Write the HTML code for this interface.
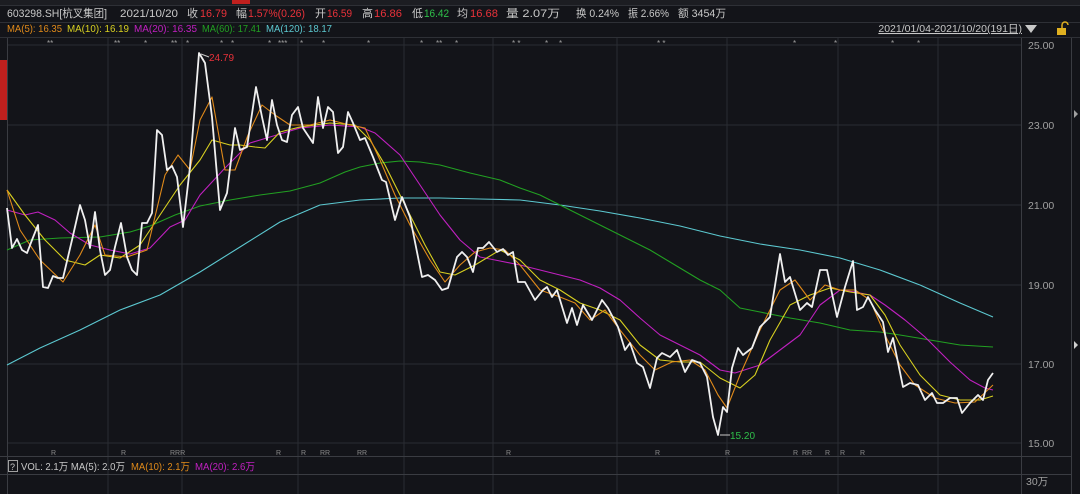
<!DOCTYPE html>
<html><head><meta charset="utf-8"><style>
html,body{margin:0;padding:0;background:#131419;}
svg{display:block;font-family:"Liberation Sans","Noto Sans CJK SC",sans-serif;}
</style></head><body>
<svg width="1080" height="494" viewBox="0 0 1080 494" xmlns="http://www.w3.org/2000/svg">
<rect width="1080" height="494" fill="#131419"/>
<rect x="0" y="0" width="1080" height="5" fill="#1c1d22"/>
<rect x="232" y="0" width="18" height="4" fill="#c0201e"/>
<line x1="0" y1="5.5" x2="1080" y2="5.5" stroke="#2e3036"/>
<line x1="0" y1="22.5" x2="1080" y2="22.5" stroke="#2e3036"/>
<line x1="0" y1="37.5" x2="1080" y2="37.5" stroke="#2e3036"/>
<g font-size="11" fill="#c8c8c8" lengthAdjust="spacingAndGlyphs">
<text x="7" y="17" textLength="100" lengthAdjust="spacingAndGlyphs">603298.SH[杭叉集团]</text>
<text x="120" y="17" textLength="58" lengthAdjust="spacingAndGlyphs">2021/10/20</text>
<text x="187" y="17">收</text><text x="200" y="17" fill="#e8323a" textLength="27" lengthAdjust="spacingAndGlyphs">16.79</text>
<text x="236" y="17">幅</text><text x="248" y="17" fill="#e8323a" textLength="57" lengthAdjust="spacingAndGlyphs">1.57%(0.26)</text>
<text x="315" y="17">开</text><text x="327" y="17" fill="#e8323a" textLength="25" lengthAdjust="spacingAndGlyphs">16.59</text>
<text x="362" y="17">高</text><text x="374" y="17" fill="#e8323a" textLength="28" lengthAdjust="spacingAndGlyphs">16.86</text>
<text x="412" y="17">低</text><text x="424" y="17" fill="#2fbf4a" textLength="25" lengthAdjust="spacingAndGlyphs">16.42</text>
<text x="457" y="17">均</text><text x="470" y="17" fill="#e8323a" textLength="28" lengthAdjust="spacingAndGlyphs">16.68</text>
<text x="506" y="17" textLength="54" lengthAdjust="spacingAndGlyphs">量 2.07万</text>
<text x="576" y="17" textLength="43" lengthAdjust="spacingAndGlyphs">换 0.24%</text>
<text x="628" y="17" textLength="41" lengthAdjust="spacingAndGlyphs">振 2.66%</text>
<text x="678" y="17" textLength="48" lengthAdjust="spacingAndGlyphs">额 3454万</text>
</g>
<g font-size="10.5">
<text x="7" y="32" fill="#e08a1a" textLength="55" lengthAdjust="spacingAndGlyphs">MA(5): 16.35</text>
<text x="67" y="32" fill="#d8d020" textLength="62" lengthAdjust="spacingAndGlyphs">MA(10): 16.19</text>
<text x="134" y="32" fill="#c020c0" textLength="63" lengthAdjust="spacingAndGlyphs">MA(20): 16.35</text>
<text x="202" y="32" fill="#22a022" textLength="59" lengthAdjust="spacingAndGlyphs">MA(60): 17.41</text>
<text x="266" y="32" fill="#5cc8d0" textLength="66" lengthAdjust="spacingAndGlyphs">MA(120): 18.17</text>
</g>
<text x="1022" y="32" font-size="10.5" fill="#c8c8c8" text-anchor="end" text-decoration="underline">2021/01/04-2021/10/20(191日)</text>
<polygon points="1025,25 1037,25 1031,33" fill="#c8c8c8"/>
<rect x="1057" y="28" width="9" height="7" fill="#e0b020"/>
<path d="M1062 28 v-3 a3 3 0 0 1 6 0" stroke="#e0b020" fill="none" stroke-width="1.5"/>
<rect x="0" y="60" width="7" height="60" fill="#c0201e"/>
<g stroke="#2a2c32" stroke-width="1">
<line x1="8" y1="45" x2="1022" y2="45"/><line x1="8" y1="125" x2="1022" y2="125"/><line x1="8" y1="205" x2="1022" y2="205"/><line x1="8" y1="285" x2="1022" y2="285"/><line x1="8" y1="364" x2="1022" y2="364"/><line x1="8" y1="443" x2="1022" y2="443"/>
<line x1="108" y1="38" x2="108" y2="494"/><line x1="182" y1="38" x2="182" y2="494"/><line x1="298" y1="38" x2="298" y2="494"/><line x1="404" y1="38" x2="404" y2="494"/><line x1="493" y1="38" x2="493" y2="494"/><line x1="617" y1="38" x2="617" y2="494"/><line x1="727" y1="38" x2="727" y2="494"/><line x1="838" y1="38" x2="838" y2="494"/><line x1="938" y1="38" x2="938" y2="494"/>
</g>
<line x1="7.5" y1="38" x2="7.5" y2="494" stroke="#3a3c42"/>
<line x1="1021.5" y1="38" x2="1021.5" y2="494" stroke="#3a3c42"/>
<line x1="1071.5" y1="38" x2="1071.5" y2="494" stroke="#3a3c42"/>
<line x1="0" y1="456.5" x2="1072" y2="456.5" stroke="#3a3c42"/>
<line x1="0" y1="474.5" x2="1072" y2="474.5" stroke="#3a3c42"/>
<g font-size="10.5" fill="#a0a0a0">
<text x="1028" y="49">25.00</text><text x="1028" y="129">23.00</text><text x="1028" y="209">21.00</text><text x="1028" y="289">19.00</text><text x="1028" y="368">17.00</text><text x="1028" y="447">15.00</text><text x="1026" y="485">30万</text>
</g>
<polygon points="1074,110 1078,114 1074,118" fill="#a0a0a0"/>
<polygon points="1074,341 1078,345 1074,349" fill="#d0d0d0"/>
<g font-size="8" fill="#a0a0a0">
<text x="47" y="46">**</text><text x="114" y="46">**</text><text x="144" y="46">*</text><text x="171" y="46">**</text><text x="186" y="46">*</text><text x="220" y="46">*</text><text x="231" y="46">*</text><text x="268" y="46">*</text><text x="278" y="46">***</text><text x="300" y="46">*</text><text x="322" y="46">*</text><text x="367" y="46">*</text><text x="420" y="46">*</text><text x="436" y="46">**</text><text x="455" y="46">*</text><text x="512" y="46">* *</text><text x="545" y="46">*</text><text x="559" y="46">*</text><text x="657" y="46">* *</text><text x="793" y="46">*</text><text x="834" y="46">*</text><text x="891" y="46">*</text><text x="917" y="46">*</text>
</g>
<g font-size="7" fill="#8a8a8a">
<text x="51" y="455">R</text><text x="121" y="455">R</text><text x="170" y="455">RRR</text><text x="276" y="455">R</text><text x="301" y="455">R</text><text x="320" y="455">RR</text><text x="357" y="455">RR</text><text x="506" y="455">R</text><text x="655" y="455">R</text><text x="725" y="455">R</text><text x="793" y="455">R</text><text x="802" y="455">RR</text><text x="825" y="455">R</text><text x="840" y="455">R</text><text x="860" y="455">R</text>
</g>
<rect x="8.5" y="460.5" width="9" height="11" fill="none" stroke="#a0a0a0"/>
<text x="10" y="470" font-size="9" fill="#c8c8c8">?</text>
<g font-size="10.5">
<text x="21" y="470" fill="#c8c8c8" textLength="104" lengthAdjust="spacingAndGlyphs">VOL: 2.1万  MA(5): 2.0万</text>
<text x="131" y="470" fill="#e08a1a" textLength="59" lengthAdjust="spacingAndGlyphs">MA(10): 2.1万</text>
<text x="195" y="470" fill="#c020c0" textLength="60" lengthAdjust="spacingAndGlyphs">MA(20): 2.6万</text>
</g>
<g fill="none" stroke-width="1.1" stroke-linejoin="round">
<polyline stroke="#5cc8d0" points="7,365 40,348 80,330 120,310 160,295 200,272 240,247 280,222 320,205 360,200 400,198 440,198 480,199 520,200 560,205 600,211 640,218 680,226 720,236 760,244 800,250 840,258 880,270 920,285 960,303 993,317"/>
<polyline stroke="#22a022" points="7,250 30,240 60,238 100,237 130,232 150,226 175,215 200,206 230,200 260,195 290,191 320,183 345,172 360,167 380,163 400,161 420,162 440,165 470,173 500,180 520,188 540,195 560,205 590,220 620,235 650,250 680,268 700,280 720,290 740,308 760,312 790,318 820,323 850,330 880,332 900,335 930,340 960,345 993,347"/>
<polyline stroke="#c020c0" points="7,210 25,215 38,212 55,220 70,233 90,245 110,250 130,254 150,248 170,227 185,220 200,195 225,168 250,143 270,137 300,128 330,125 360,127 375,133 400,155 420,185 440,215 460,240 480,257 500,261 520,265 540,270 560,275 580,280 600,288 620,300 640,318 660,335 680,345 700,355 720,370 735,373 760,365 780,350 800,335 820,305 840,290 855,292 870,295 885,305 905,320 925,337 950,362 970,380 985,388 993,390"/>
<polyline stroke="#d8d020" points="7,190 25,215 45,240 65,260 85,265 100,255 120,258 140,245 160,215 180,185 200,160 212,140 230,145 240,145 255,147 265,148 280,132 300,127 330,123 355,125 370,140 385,165 405,205 425,245 440,272 455,275 475,265 500,250 520,260 540,280 560,290 580,303 600,310 620,320 640,345 660,360 680,362 700,362 720,378 740,388 755,375 770,340 790,305 810,295 830,288 850,292 870,295 885,315 900,345 920,375 940,395 960,400 980,400 993,396"/>
<polyline stroke="#e08a1a" points="7,190 20,230 40,260 63,282 80,255 95,225 105,255 127,257 147,250 165,175 178,155 190,170 200,120 212,97 225,170 235,170 248,135 262,105 275,115 290,125 310,125 330,120 350,125 365,128 380,160 395,195 410,225 430,260 445,282 460,265 475,252 490,248 505,250 520,265 540,290 560,297 575,303 590,320 605,310 620,330 640,355 655,370 672,362 690,360 705,370 718,395 727,408 740,375 760,330 780,290 795,280 810,300 825,285 840,290 855,290 870,300 885,335 900,365 915,385 935,398 955,403 975,402 993,385"/>
<polyline stroke="#f0f0f0" stroke-width="1.8" points="7,208 12,248 17,239 22,250 27,253 32,240 38,225 43,287 48,288 53,276 58,278 63,278 72,240 80,205 85,220 90,248 95,212 100,250 105,275 110,270 115,247 121,223 127,257 132,270 137,275 142,223 147,223 152,213 157,130 162,135 167,170 172,166 177,177 183,227 190,167 199,53 205,63 212,117 220,210 227,193 235,128 240,150 247,147 256,87 262,117 267,140 272,100 277,125 282,140 287,142 292,115 298,107 303,128 313,143 318,97 323,128 328,107 333,112 338,153 343,147 348,112 353,123 360,140 365,138 373,157 382,180 386,182 395,220 402,197 410,217 422,277 428,275 435,280 442,290 448,288 457,257 462,252 467,257 473,272 478,248 483,248 489,242 497,252 503,249 508,255 513,252 518,282 525,282 535,300 543,290 547,287 552,297 557,290 567,323 572,308 577,325 583,305 592,320 602,300 608,308 618,327 625,350 630,343 637,363 643,367 650,388 657,358 662,353 670,357 677,350 685,372 692,360 700,363 707,377 713,417 718,435 723,407 727,412 732,368 738,348 743,355 752,348 760,327 770,317 780,254 785,282 790,277 800,310 807,303 812,307 820,270 827,270 837,317 845,287 853,261 857,310 863,307 868,297 875,310 883,322 888,352 893,338 903,387 910,383 918,385 925,400 932,393 937,403 943,403 950,398 957,398 962,413 970,403 978,395 983,400 988,380 993,373"/>
</g>
<line x1="201" y1="54" x2="209" y2="57" stroke="#c8c8c8"/>
<text x="209" y="61" font-size="10" fill="#e8323a">24.79</text>
<line x1="720" y1="435" x2="730" y2="435" stroke="#c8c8c8"/>
<text x="730" y="439" font-size="10" fill="#2fbf4a">15.20</text>
</svg>
</body></html>
